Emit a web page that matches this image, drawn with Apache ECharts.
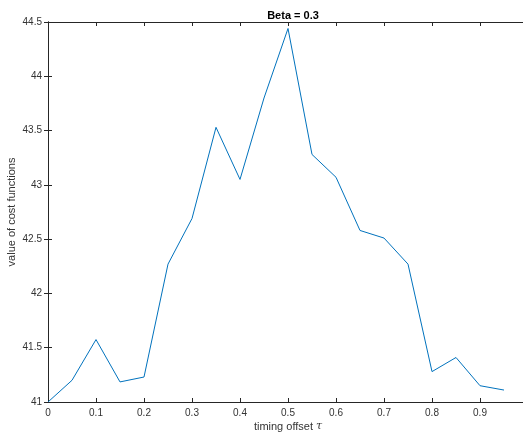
<!DOCTYPE html>
<html>
<head>
<meta charset="utf-8">
<script src="https://cdn.jsdelivr.net/npm/echarts@6/dist/echarts.min.js"></script>
<style>
html, body { margin: 0; padding: 0; background: #fff; }
#chart { width: 523px; height: 434px; }
</style>
</head>
<body>
<div id="chart"></div>
<script>
// timing offset tau
var offsets = [0, 0.05, 0.1, 0.15, 0.2, 0.25, 0.3, 0.35, 0.4, 0.45,
               0.5, 0.55, 0.6, 0.65, 0.7, 0.75, 0.8, 0.85, 0.9, 0.95]
// value of cost functions
var costValues = [41.0, 41.2, 41.575, 41.185, 41.23, 42.27, 42.69, 43.53, 43.05, 43.8,
                  44.44, 43.28, 43.07, 42.58, 42.51, 42.27, 41.28, 41.41, 41.15, 41.11]

var axisColor = '#262626'
var labelColor = '#333333'
var fontFam = 'Liberation Sans, Arial, sans-serif'

var seriesData = []
for (var i = 0; i < offsets.length; i++) {
    seriesData.push([offsets[i], costValues[i]])
}

var dom = echarts.init(document.getElementById('chart'))
var option = {
    animation: false,
    title: {
        text: 'Beta = 0.3',
        left: 288,
        textAlign: 'center',
        top: 5,
        textStyle: { fontSize: 11, fontWeight: 'bold', color: '#000', fontFamily: fontFam }
    },
    grid: { left: 48, top: 22, right: -5, bottom: 32, containLabel: false, outerBoundsMode: 'none' },
    xAxis: [{
        type: 'value',
        min: 0,
        max: 1,
        interval: 0.1,
        position: 'bottom',
        name: '{a|timing offset }{b|τ}',
        nameLocation: 'middle',
        nameGap: 19,
        nameMoveOverlap: false,
        nameTextStyle: {
            rich: {
                a: { fontSize: 11, color: labelColor, fontFamily: fontFam },
                b: { fontSize: 11, color: labelColor, fontStyle: 'italic', fontFamily: 'DejaVu Serif, serif' }
            }
        },
        axisLine: { show: true, lineStyle: { color: axisColor, width: 1 } },
        axisTick: { show: true, inside: true, length: 4, lineStyle: { color: axisColor } },
        axisLabel: {
            color: labelColor, fontSize: 10, fontFamily: fontFam, margin: 6,
            formatter: function (v) { return v === 0 ? '0' : String(Math.round(v * 10) / 10) }
        },
        splitLine: { show: false }
    }, {
        type: 'value',
        min: 0,
        max: 1,
        interval: 0.1,
        position: 'top',
        axisLine: { show: true, lineStyle: { color: axisColor, width: 1 } },
        axisTick: { show: true, inside: true, length: 4, lineStyle: { color: axisColor } },
        axisLabel: { show: false },
        splitLine: { show: false }
    }],
    yAxis: [{
        type: 'value',
        min: 41,
        max: 44.5,
        interval: 0.5,
        position: 'left',
        name: 'value of cost functions',
        nameLocation: 'middle',
        nameGap: 31,
        nameMoveOverlap: false,
        nameTextStyle: { fontSize: 11, color: labelColor, fontFamily: fontFam },
        axisLine: { show: true, lineStyle: { color: axisColor, width: 1 } },
        axisTick: { show: true, inside: true, length: 4, lineStyle: { color: axisColor } },
        axisLabel: { color: labelColor, fontSize: 10, fontFamily: fontFam, margin: 6 },
        splitLine: { show: false }
    }, {
        type: 'value',
        min: 41,
        max: 44.5,
        interval: 0.5,
        position: 'right',
        axisLine: { show: true, lineStyle: { color: axisColor, width: 1 } },
        axisTick: { show: true, inside: true, length: 4 },
        axisLabel: { show: false },
        splitLine: { show: false }
    }],
    series: [{
        type: 'line',
        data: seriesData,
        showSymbol: false,
        symbol: 'none',
        lineStyle: { color: '#0072BD', width: 1 },
        xAxisIndex: 0,
        yAxisIndex: 0
    }]
}
dom.setOption(option)
</script>
</body>
</html>
